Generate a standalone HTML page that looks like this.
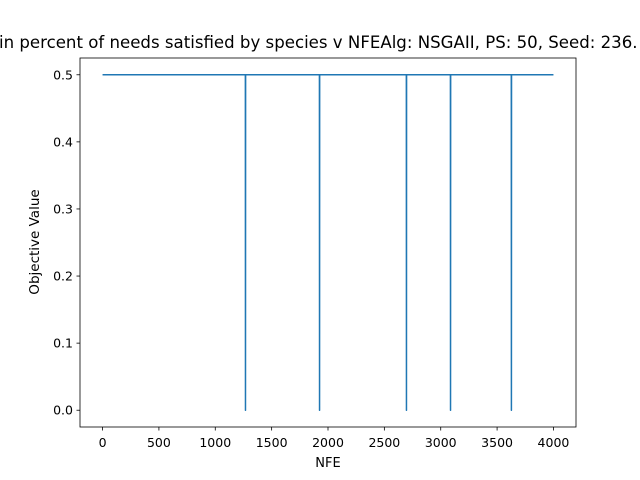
<!DOCTYPE html>
<html><head><meta charset="utf-8"><style>
html,body{margin:0;padding:0;background:#fff;}
svg{display:block;font-family:"DejaVu Sans","Liberation Sans",sans-serif;}
</style></head><body>
<svg id="chart" width="640" height="480" viewBox="0 0 640 480">
<rect width="640" height="480" fill="#fff"/>
<text x="-1" y="48" font-size="16.6" fill="#000">in percent of needs satisfied by species v NFEAlg: NSGAII, PS: 50, Seed: 236.</text>
<g id="plot"></g>
<text x="328" y="467" font-size="13" text-anchor="middle">NFE</text>
<text transform="translate(39,242) rotate(-90)" font-size="13.5" text-anchor="middle">Objective Value</text>
</svg>
<script>
const dipNFE = [1268, 1925, 2696, 3087, 3627];
const baseValue = 0.5;
const dipValue = 0.0;
const nfeStart = 0;
const nfeEnd = 4000;
const xTicks = [0, 500, 1000, 1500, 2000, 2500, 3000, 3500, 4000];
const yTicks = [0.0, 0.1, 0.2, 0.3, 0.4, 0.5];
const yTickLabels = ["0.0", "0.1", "0.2", "0.3", "0.4", "0.5"];

const L=80,R=576,T=58,B=427;
const xMin=-200,xMax=4200,yMin=-0.025,yMax=0.525;
const xs=v=>L+(v-xMin)/(xMax-xMin)*(R-L);
const ys=v=>B-(v-yMin)/(yMax-yMin)*(B-T);
const NS="http://www.w3.org/2000/svg";
const g=document.getElementById('plot');
function mk(t,a){const e=document.createElementNS(NS,t);for(const k in a)e.setAttribute(k,a[k]);g.appendChild(e);return e;}

const px=[nfeStart], py=[baseValue];
dipNFE.forEach(d=>{px.push(d-1,d,d+1);py.push(baseValue,dipValue,baseValue);});
px.push(nfeEnd);py.push(baseValue);
const pts=px.map((x,i)=>xs(x).toFixed(2)+','+ys(py[i]).toFixed(2)).join(' ');
const line=mk('polyline',{points:pts,fill:'none',stroke:'#1f77b4','stroke-width':1.5,'stroke-linejoin':'round'});



const frame=mk('rect',{x:L,y:T,width:R-L,height:B-T,fill:'none',stroke:'#000','stroke-width':0.8});



xTicks.forEach(v=>{
  const x=xs(v);
  const t=mk('line',{x1:x,x2:x,y1:B,y2:B+3.5,stroke:'#000','stroke-width':0.8});
  
  
  const l=mk('text',{x:x,y:B+20,'font-size':12.5,'text-anchor':'middle'});
  l.textContent=String(v);
  
  
});
yTicks.forEach((v,i)=>{
  const y=ys(v);
  const t=mk('line',{x1:L-3.5,x2:L,y1:y,y2:y,stroke:'#000','stroke-width':0.8});
  
  
  const l=mk('text',{x:L-7,y:y+4.5,'font-size':12.5,'text-anchor':'end'});
  l.textContent=yTickLabels[i];
  
  
});
</script>
</body></html>
